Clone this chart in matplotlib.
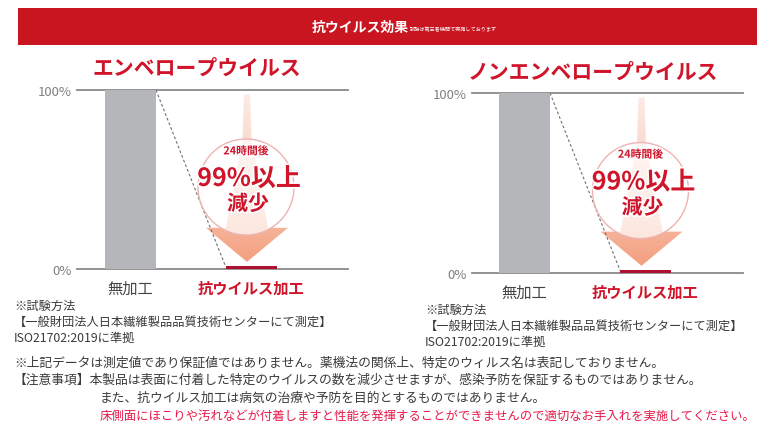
import numpy as np
import matplotlib
matplotlib.use('Agg')
import matplotlib.pyplot as plt
from matplotlib.patches import Rectangle, Polygon, Ellipse
from matplotlib.colors import LinearSegmentedColormap
import matplotlib.patheffects as pe

plt.rcParams['font.family'] = ['Noto Sans CJK JP', 'DejaVu Sans']

W, H = 757, 435

# ---------------- data ----------------
categories = ['無加工', '抗ウイルス加工']
envelope_values = [100, 1.5]
non_envelope_values = [100, 1.5]
panel_titles = ['エンベロープウイルス', 'ノンエンベロープウイルス']
y_ticks = [0, 100]
y_tick_labels = ['0%', '100%']
badge_lines = ['24時間後', '99%以上', '減少']
banner_title = '抗ウイルス効果'
banner_sub = '試験は第三者機関で実施しております'
method_lines = ['※試験方法',
                '【一般財団法人日本繊維製品品質技術センターにて測定】',
                'ISO21702:2019に準拠']
note_lines = ['※上記データは測定値であり保証値ではありません。薬機法の関係上、特定のウィルス名は表記しておりません。',
              '【注意事項】本製品は表面に付着した特定のウイルスの数を減少させますが、感染予防を保証するものではありません。',
              'また、抗ウイルス加工は病気の治療や予防を目的とするものではありません。',
              '床側面にほこりや汚れなどが付着しますと性能を発揮することができませんので適切なお手入れを実施してください。']

RED = '#d0142a'
DARK_RED = '#b01030'
GRAY_BAR = '#b4b6b9'
LINE = '#8a8a8a'
TXT = '#3a3a3a'

fig = plt.figure(figsize=(W / 100, H / 100), dpi=100)
bg = fig.add_axes([0, 0, 1, 1])
bg.set_xlim(0, W)
bg.set_ylim(H, 0)
bg.axis('off')

# banner
bg.add_patch(Rectangle((18, 9), W - 18, 37, facecolor='#c9151f', edgecolor='none'))
bg.text(312, 28, banner_title, color='white', fontsize=10, fontweight='bold',
        ha='left', va='center')
bg.text(410, 30, banner_sub, color='white', fontsize=3.7, ha='left', va='center')


def draw_panel(x0, x1, ytop, ybot, c0, c1, values, title, title_xy, circ_off):
    ax = fig.add_axes([x0 / W, 1 - ybot / H, (x1 - x0) / W, (ybot - ytop) / H])
    ax.patch.set_visible(False)
    sx = c1 - c0                      # px per category unit
    sy = (ybot - ytop) / 100.0        # px per percent
    xl = (-(c0 - x0) / sx, 1 + (x1 - c1) / sx)
    bw = 51 / sx
    pos = np.arange(len(categories))
    ax.bar(pos, values, width=bw, color=[GRAY_BAR, DARK_RED], zorder=3)
    for t in y_ticks:
        ax.axhline(t, color=LINE, lw=1.3, zorder=2, clip_on=False)
    # dashed connector
    ax.plot([pos[0] + bw / 2, pos[1] - bw / 2], [values[0], values[1]],
            color='#707070', lw=0.8, ls=(0, (2.5, 2)), zorder=2)
    # gradient arrow
    cx = pos[1] - 4 / sx
    hw_top, hw_c, hw_mid, hw_head = 3 / sx, 4.5 / sx, 21 / sx, 41 / sx
    top, ctop, neck, tip = 97.5, 72.0, 23.0, 4.0
    xs = [cx - hw_top, cx + hw_top, cx + hw_c, cx + hw_mid, cx + hw_head, cx,
          cx - hw_head, cx - hw_mid, cx - hw_c]
    ys = [top, top, ctop, neck, neck, tip, neck, neck, ctop]
    poly = Polygon(list(zip(xs, ys)), closed=True, facecolor='none', edgecolor='none')
    ax.add_patch(poly)
    cmap = LinearSegmentedColormap.from_list('arr', ['#fcebe5', '#f9cfc0', '#f39f7e'])
    grad = np.linspace(0, 1, 256).reshape(-1, 1)
    im = ax.imshow(grad, extent=[cx - hw_head, cx + hw_head, tip, top], cmap=cmap,
                   aspect='auto', zorder=1, interpolation='bilinear')
    im.set_clip_path(poly)
    # circle badge
    ccx = pos[1] + circ_off / sx
    ccy = 45.8
    ax.add_patch(Ellipse((ccx, ccy), 96 / sx, 96 / sy, facecolor=(1, 1, 1, 0.7),
                         edgecolor='#eeb3b3', lw=1.0, zorder=4))
    stroke = [pe.withStroke(linewidth=2.5, foreground='white')]
    ax.text(ccx, 65.9, badge_lines[0], color=RED, fontsize=7.8, fontweight='bold',
            ha='center', va='center', zorder=6, path_effects=stroke)
    ax.text(ccx + 3 / sx, 50.3, badge_lines[1], color=RED, fontsize=18, fontweight='bold',
            ha='center', va='center', zorder=6, path_effects=stroke)
    ax.text(ccx + 2 / sx, 36.5, badge_lines[2], color=RED, fontsize=15, fontweight='bold',
            ha='center', va='center', zorder=6, path_effects=stroke)
    ax.set_xlim(*xl)
    ax.set_ylim(0, 100)
    for s in ax.spines.values():
        s.set_visible(False)
    ax.set_yticks(y_ticks)
    ax.set_yticklabels(y_tick_labels, color='#808080', fontsize=9.5)
    ax.set_xticks(pos)
    ax.set_xticklabels(categories, fontsize=11)
    ax.tick_params(length=0, axis='y', pad=4)
    ax.tick_params(length=0, axis='x', pad=8)
    labs = ax.get_xticklabels()
    labs[0].set_color('#444444')
    labs[1].set_color(RED)
    labs[1].set_fontweight('bold')
    bg.text(title_xy[0], title_xy[1], title, color=RED, fontsize=15, fontweight='bold',
            ha='center', va='center')
    return ax


draw_panel(77, 348, 91, 270, 130.5, 251, envelope_values, panel_titles[0], (197, 68), -5)
draw_panel(472, 743, 94, 274, 524.5, 645.5, non_envelope_values, panel_titles[1], (593, 72), -5)

# notes under the charts
for i, s in enumerate(method_lines):
    bg.text(14, 306 + i * 16, s, color=TXT, fontsize=8.8, ha='left', va='center')
    bg.text(425, 310 + i * 16, s, color=TXT, fontsize=8.8, ha='left', va='center')

note_x = [14, 14, 100, 100]
note_y = [363, 380, 398, 416]
note_c = [TXT, TXT, TXT, '#e8184a']
note_s = [9.2, 9.2, 9.2, 8.9]
for s, x, y, c, fs in zip(note_lines, note_x, note_y, note_c, note_s):
    bg.text(x, y, s, color=c, fontsize=fs, ha='left', va='center')

fig.savefig('out.png', dpi=100)
